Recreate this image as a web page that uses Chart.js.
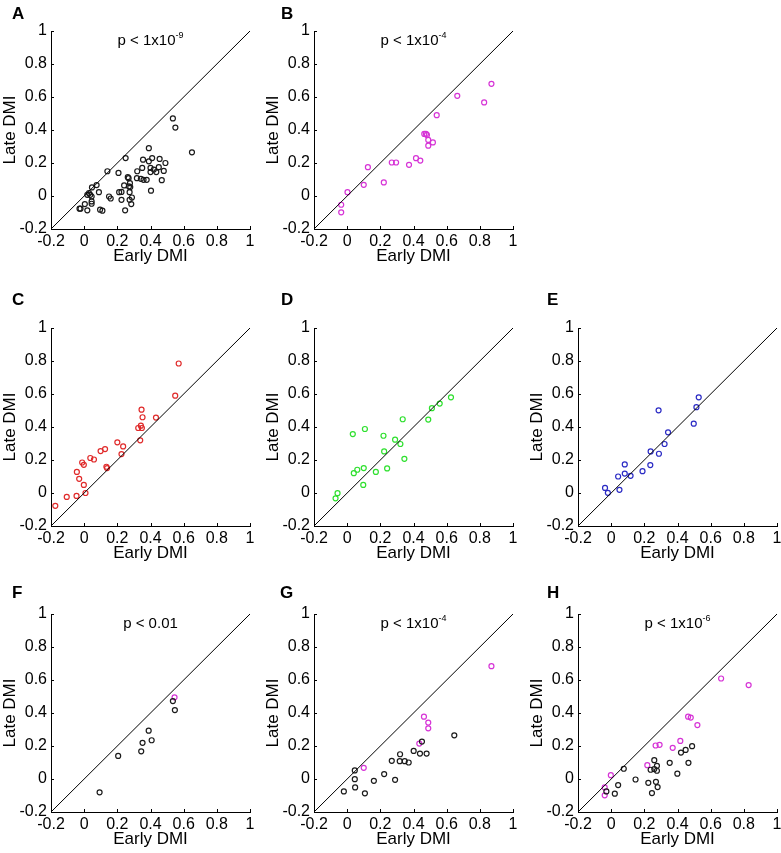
<!DOCTYPE html>
<html>
<head>
<meta charset="utf-8">
<script src="https://cdn.jsdelivr.net/npm/chart.js@4.4.1/dist/chart.umd.min.js"></script>
<style>
  html, body { margin: 0; padding: 0; overflow: hidden; }
  body { width: 781px; height: 853px; position: relative; background: #fff;
         font-family: "Liberation Sans", Arial, sans-serif; color: #000; }
  canvas { position: absolute; }
  .letter { position: absolute; font-weight: bold; font-size: 17px; line-height: 17px; }
  .pval { position: absolute; font-size: 15px; line-height: 15px; white-space: nowrap;
          transform: translateX(-50%); }
  .pval sup { font-size: 9px; line-height: 0; position: relative; top: -1px; vertical-align: super; }
</style>
</head>
<body>
<script>
// axis ticks and labels
const tickValues = [-0.2, 0, 0.2, 0.4, 0.6, 0.8, 1];
const xLabel = "Early DMI";
const yLabel = "Late DMI";

// A - all cells (black)
const aEarly = [0.535, 0.55, 0.65, 0.39, 0.25, 0.355, 0.41, 0.455, 0.39, 0.49, 0.35, 0.32, 0.40, 0.40, 0.42, 0.45,
  0.435, 0.48, 0.468, 0.403, 0.207, 0.14, 0.263, 0.268, 0.318, 0.342, 0.358, 0.377, 0.241, 0.27, 0.276, 0.278,
  0.211, 0.225, 0.274, 0.288, 0.274, 0.225, 0.284, 0.247, 0.15, 0.16, 0.075, 0.047, 0.029, 0.019, 0.045, 0.089,
  0.004, 0.045, 0.045, 0.096, 0.11, 0.019, -0.028, -0.022, 0.037];
const aLate = [0.47, 0.415, 0.265, 0.29, 0.23, 0.22, 0.23, 0.225, 0.21, 0.2, 0.17, 0.15, 0.17, 0.145, 0.16, 0.175,
  0.145, 0.152, 0.096, 0.032, 0.14, 0.15, 0.114, 0.108, 0.108, 0.104, 0.098, 0.098, 0.064, 0.058, 0.078, 0.054,
  0.023, 0.025, 0.023, -0.009, -0.023, -0.023, -0.049, -0.087, -0.003, -0.015, 0.066, 0.052, 0.017, 0.007, -0.003, 0.023,
  -0.049, -0.033, -0.047, -0.083, -0.089, -0.087, -0.077, -0.077, 0.007];

// B - magenta
const bEarly = [0.87, 0.826, 0.664, 0.54, 0.465, 0.475, 0.481, 0.489, 0.517, 0.489, 0.415, 0.441, 0.373, 0.269,
  0.295, 0.125, 0.221, 0.10, 0.002, -0.036, -0.036];
const bLate = [0.68, 0.567, 0.607, 0.49, 0.376, 0.376, 0.37, 0.34, 0.325, 0.305, 0.229, 0.215, 0.189, 0.203,
  0.203, 0.175, 0.082, 0.068, 0.023, -0.053, -0.099];

// C - red
const cEarly = [0.57, 0.549, 0.346, 0.352, 0.342, 0.326, 0.348, 0.433, 0.338, 0.2, 0.235, 0.225, 0.126, 0.099,
  0.037, 0.059, -0.012, -0.002, 0.134, 0.138, -0.044, -0.03, -0.002, 0.008, -0.046, -0.105, -0.174];
const cLate = [0.785, 0.59, 0.505, 0.459, 0.408, 0.394, 0.394, 0.457, 0.319, 0.307, 0.282, 0.236, 0.266, 0.254,
  0.212, 0.203, 0.185, 0.171, 0.159, 0.151, 0.128, 0.086, 0.049, 0.0, -0.018, -0.024, -0.078];

// D - green
const dEarly = [0.626, 0.558, 0.511, 0.489, 0.335, 0.107, 0.034, 0.219, 0.289, 0.321, 0.223, 0.345, 0.241, 0.10,
  0.173, 0.061, 0.04, 0.097, -0.058, -0.07];
const dLate = [0.58, 0.542, 0.514, 0.445, 0.447, 0.388, 0.357, 0.347, 0.323, 0.297, 0.252, 0.207, 0.149, 0.151,
  0.128, 0.141, 0.12, 0.049, -0.001, -0.032];

// E - blue
const eEarly = [0.528, 0.514, 0.498, 0.286, 0.343, 0.322, 0.238, 0.288, 0.236, 0.189, 0.117, 0.082, 0.082, 0.042,
  0.05, -0.037, -0.02];
const eLate = [0.58, 0.52, 0.42, 0.501, 0.368, 0.297, 0.252, 0.238, 0.169, 0.132, 0.104, 0.118, 0.173, 0.1,
  0.019, 0.031, 0.001];

// F
const fEarlyBlack = [0.535, 0.547, 0.389, 0.407, 0.352, 0.344, 0.205, 0.093];
const fLateBlack = [0.472, 0.418, 0.293, 0.235, 0.219, 0.168, 0.14, -0.081];
const fEarlyMag = [0.545];
const fLateMag = [0.495];

// G
const gEarlyBlack = [0.646, 0.451, 0.401, 0.319, 0.439, 0.479, 0.269, 0.317, 0.347, 0.371, 0.223, 0.046, 0.046,
  0.161, 0.289, 0.048, -0.02, 0.107];
const gLateBlack = [0.265, 0.227, 0.17, 0.15, 0.154, 0.154, 0.11, 0.108, 0.108, 0.1, 0.03, 0.052, -0.001,
  -0.011, -0.005, -0.051, -0.075, -0.087];
const gEarlyMag = [0.87, 0.463, 0.489, 0.489, 0.435, 0.10];
const gLateMag = [0.684, 0.378, 0.342, 0.307, 0.215, 0.068];

// H
const hEarlyBlack = [0.488, 0.449, 0.421, 0.353, 0.466, 0.399, 0.26, 0.276, 0.238, 0.26, 0.276, 0.076, 0.147,
  0.224, 0.27, 0.28, 0.246, 0.042, 0.022, -0.029];
const hLateBlack = [0.199, 0.176, 0.16, 0.098, 0.098, 0.032, 0.114, 0.08, 0.056, 0.06, 0.05, 0.062, -0.003,
  -0.023, -0.017, -0.049, -0.085, -0.037, -0.089, -0.075];
const hEarlyMag = [0.663, 0.829, 0.464, 0.48, 0.52, 0.417, 0.268, 0.292, 0.371, 0.218, -0.002, -0.039, -0.039];
const hLateMag = [0.609, 0.569, 0.378, 0.372, 0.327, 0.231, 0.203, 0.207, 0.189, 0.084, 0.023, -0.051, -0.099];

const BLACK = "#1a1a1a";
const MAGENTA = "#d633d6";
const RED = "#e02a2a";
const GREEN = "#2ee02e";
const BLUE = "#2a2ac4";

function pts(xs, ys) {
  return xs.map((x, i) => ({ x: x, y: ys[i] }));
}

function fmt(v) {
  return String(Math.round(v * 10) / 10);
}

// MATLAB style short ticks pointing into the plot
const inwardTicks = {
  id: "inwardTicks",
  afterDatasetsDraw(chart) {
    const { ctx, chartArea, scales } = chart;
    ctx.save();
    ctx.strokeStyle = "#000";
    ctx.lineWidth = 1;
    ctx.beginPath();
    tickValues.forEach((v) => {
      const px = Math.round(scales.x.getPixelForValue(v)) + 0.5;
      ctx.moveTo(px, chartArea.bottom);
      ctx.lineTo(px, chartArea.bottom - 3);
      const py = Math.round(scales.y.getPixelForValue(v)) + 0.5;
      ctx.moveTo(chartArea.left, py);
      ctx.lineTo(chartArea.left + 3, py);
    });
    ctx.stroke();
    ctx.restore();
  },
};

const panels = [
  { id: "A", left: 51, top: 31, letterX: 12, letterY: 5, p: ["p < 1x10", "-9"], sets: [[aEarly, aLate, BLACK]] },
  { id: "B", left: 314, top: 31, letterX: 281, letterY: 5, p: ["p < 1x10", "-4"], sets: [[bEarly, bLate, MAGENTA]] },
  { id: "C", left: 51, top: 328, letterX: 12, letterY: 291, p: null, sets: [[cEarly, cLate, RED]] },
  { id: "D", left: 314, top: 328, letterX: 281, letterY: 291, p: null, sets: [[dEarly, dLate, GREEN]] },
  { id: "E", left: 578, top: 328, letterX: 547, letterY: 291, p: null, sets: [[eEarly, eLate, BLUE]] },
  { id: "F", left: 51, top: 614, letterX: 12, letterY: 584, p: ["p < 0.01", ""],
    sets: [[fEarlyBlack, fLateBlack, BLACK], [fEarlyMag, fLateMag, MAGENTA]] },
  { id: "G", left: 314, top: 614, letterX: 280, letterY: 584, p: ["p < 1x10", "-4"],
    sets: [[gEarlyBlack, gLateBlack, BLACK], [gEarlyMag, gLateMag, MAGENTA]] },
  { id: "H", left: 578, top: 614, letterX: 547, letterY: 584, p: ["p < 1x10", "-6"],
    sets: [[hEarlyBlack, hLateBlack, BLACK], [hEarlyMag, hLateMag, MAGENTA]] },
];

Chart.defaults.font.family = '"Liberation Sans", Arial, sans-serif';
Chart.defaults.color = "#000";

const AXIS_W = 51, PAD_TOP = 31, PLOT_W = 199, PLOT_H = 198, PAD_RIGHT = 8, AXIS_H = 41;

panels.forEach((panel) => {
  const canvas = document.createElement("canvas");
  canvas.width = AXIS_W + PLOT_W + PAD_RIGHT;
  canvas.height = PAD_TOP + PLOT_H + AXIS_H;
  canvas.style.left = panel.left - AXIS_W + "px";
  canvas.style.top = panel.top - PAD_TOP + "px";
  document.body.appendChild(canvas);

  const letter = document.createElement("div");
  letter.className = "letter";
  letter.textContent = panel.id;
  letter.style.left = panel.letterX + "px";
  letter.style.top = panel.letterY + "px";
  document.body.appendChild(letter);

  if (panel.p) {
    const pv = document.createElement("div");
    pv.className = "pval";
    pv.style.left = panel.left + PLOT_W / 2 + "px";
    pv.style.top = panel.top + 1 + "px";
    pv.innerHTML = panel.p[0] + (panel.p[1] ? "<sup>" + panel.p[1] + "</sup>" : "");
    document.body.appendChild(pv);
  }

  const datasets = [
    {
      data: [{ x: -0.2, y: -0.2 }, { x: 1, y: 1 }],
      showLine: true,
      borderColor: "#000",
      borderWidth: 1,
      pointRadius: 0,
    },
  ];
  panel.sets.forEach((s) => {
    datasets.push({
      data: pts(s[0], s[1]),
      borderColor: s[2],
      backgroundColor: "rgba(0,0,0,0)",
      borderWidth: 1.2,
      pointRadius: 2.5,
      pointStyle: "circle",
    });
  });

  new Chart(canvas.getContext("2d"), {
    type: "scatter",
    data: { datasets: datasets },
    options: {
      responsive: false,
      animation: false,
      devicePixelRatio: 1,
      layout: { padding: { top: PAD_TOP, right: PAD_RIGHT, bottom: 0, left: 0 } },
      plugins: { legend: { display: false }, tooltip: { enabled: false } },
      scales: {
        x: {
          type: "linear",
          min: -0.2,
          max: 1,
          afterBuildTicks: (s) => { s.ticks = tickValues.map((v) => ({ value: v })); },
          afterFit: (s) => { s.height = AXIS_H; },
          grid: { display: false, drawTicks: false, tickLength: 0 },
          border: { display: true, color: "#000", width: 1 },
          ticks: { color: "#000", font: { size: 16 }, padding: 3, maxRotation: 0, autoSkip: false, callback: fmt },
          title: { display: true, text: xLabel, color: "#000", font: { size: 17 }, padding: { top: 0, bottom: 3 } },
        },
        y: {
          type: "linear",
          min: -0.2,
          max: 1,
          afterBuildTicks: (s) => { s.ticks = tickValues.map((v) => ({ value: v })); },
          afterFit: (s) => { s.width = AXIS_W; },
          grid: { display: false, drawTicks: false, tickLength: 0 },
          border: { display: true, color: "#000", width: 1 },
          ticks: { color: "#000", font: { size: 16 }, padding: 4, autoSkip: false, callback: fmt },
          title: { display: true, text: yLabel, color: "#000", font: { size: 17 }, padding: { top: 0, bottom: 0 } },
        },
      },
    },
    plugins: [inwardTicks],
  });
});
</script>
</body>
</html>
